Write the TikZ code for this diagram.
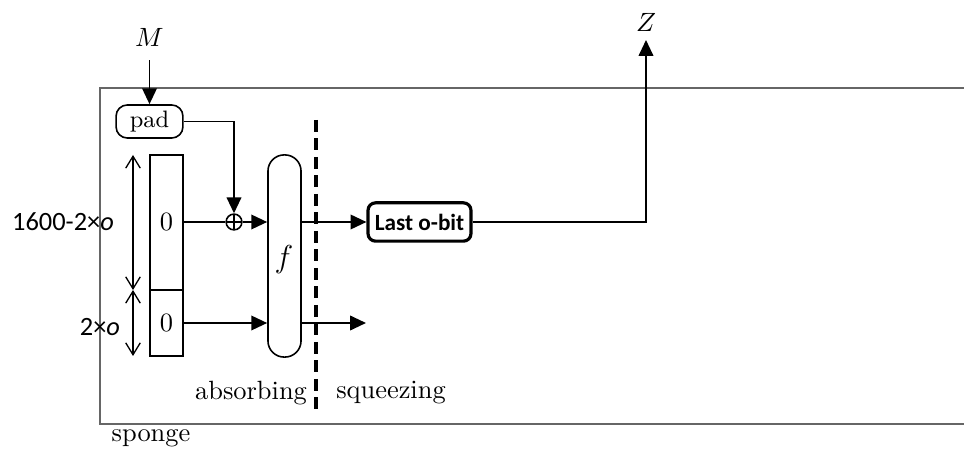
\documentclass[tikz,border=0pt]{standalone}
\usepackage{fontspec}
\newfontfamily\calibri{Carlito}
\usetikzlibrary{arrows.meta,positioning}

\begin{document}
\begin{tikzpicture}[x=0.0133cm,y=-0.0133cm,
    conn/.style={line width=0.7pt},
    arr/.style={conn,-{Triangle[length=6pt,width=5.5pt]}},
    dimarr/.style={line width=0.5pt,{Straight Barb[length=4.5pt,width=5.5pt]}-{Straight Barb[length=4.5pt,width=5.5pt]}},
    cell/.style={draw,line width=0.6pt,minimum width=0.44cm,inner sep=0pt}]
\useasboundingbox (0,0) rectangle (964,456);
% sponge box, open on the right
\draw [gray!80!black,line width=0.5pt] (964,88) -- (100,88) -- (100,424) -- (964,424);
\node (lblM) at (149.5,37) {$M$};
\node [draw,rounded corners=0.15cm,minimum width=0.89cm,minimum height=0.44cm,inner sep=0pt,line width=0.6pt] (pad) at (149.5,121.5) {\small pad};
\node [cell,minimum height=1.80cm] (reghi) at (166.5,222.5) {0};
\node [cell,minimum height=0.88cm] (reglo) at (166.5,323) {0};
\node [draw,circle,minimum size=0.21cm,inner sep=0pt,line width=0.6pt,
    path picture={\draw (path picture bounding box.north) -- (path picture bounding box.south)
    (path picture bounding box.west) -- (path picture bounding box.east);}] (xor) at (234,222) {};
\node [draw,rounded corners=0.215cm,minimum width=0.44cm,minimum height=2.69cm,line width=0.6pt] (f) at (284.5,256) {};
\node (lblf) at (284,260) {\large $f$};
\node [draw,rounded corners=0.1cm,line width=1.2pt,minimum width=1.37cm,minimum height=0.51cm,inner sep=1pt] (last) at (419.5,222) {\calibri\bfseries\fontsize{8.8}{10}\selectfont Last o-bit};
\node (lblZ) at (646,22) {$Z$};
\node (lblhi) at (63,222) {\calibri 1600-2×\textit{o}};
\node (lbllo) at (100,327) {\calibri 2×\textit{o}};
\node (lblabs) at (251,393) {absorbing};
\node (lblsqz) at (391,393) {squeezing};
\node (lblsponge) at (151,438) {sponge};
\coordinate (dtop) at (133,155);
\coordinate (dmid) at (133,290);
\coordinate (dbot) at (133,356);
\coordinate (out2) at (366,323);
\coordinate (zout) at (646,40);
% connectors
\draw [arr] (lblM.south) ++(0,5) -- (pad.north);
\draw [arr] (pad.east) -| (xor.north);
\draw [conn] (reghi.east |- xor) -- (xor.west);
\draw [arr] (xor.east) -- (xor -| f.west);
\draw [arr] (reglo.east) -- (reglo -| f.west);
\draw [arr] (xor -| f.east) -- (last.west);
\draw [arr] (reglo -| f.east) -- (out2);
\draw [arr] (last.east) -| (zout);
\draw [dimarr] (dtop) -- (dmid);
\draw [dimarr] (dmid) -- (dbot);
\draw [line width=1.2pt,dash pattern=on 4.5pt off 2.5pt] (316,120) -- (316,415);
\end{tikzpicture}
\end{document}
